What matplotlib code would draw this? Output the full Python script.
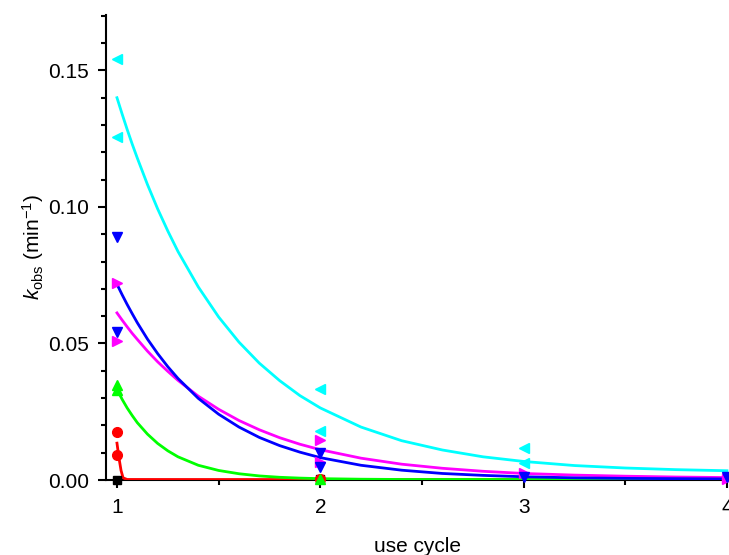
import numpy as np
import matplotlib
matplotlib.use("Agg")
import matplotlib.pyplot as plt
from matplotlib.ticker import MultipleLocator

plt.rcParams['font.family'] = ['Liberation Sans', 'DejaVu Sans']
plt.rcParams['mathtext.fontset'] = 'custom'
plt.rcParams['mathtext.rm'] = 'Liberation Sans'
plt.rcParams['mathtext.it'] = 'Liberation Sans:italic'

# measured k_obs points (use cycle, value)
cyan_x = [1, 1, 2, 2, 3, 3]
cyan_y = [0.154, 0.1256, 0.0333, 0.0180, 0.0117, 0.0062]
blue_x = [1, 1, 2, 2, 3, 4]
blue_y = [0.0890, 0.0542, 0.0100, 0.0048, 0.0010, 0.0010]
magenta_x = [1, 1, 2, 2, 3, 4]
magenta_y = [0.0720, 0.0510, 0.0147, 0.0066, 0.0026, 0.0005]
green_x = [1, 1, 2]
green_y = [0.0348, 0.0330, 0.0003]
red_x = [1, 1, 2]
red_y = [0.0176, 0.0092, 0.0005]
black_x = [1, 2]
black_y = [0.0, 0.0005]

# fitted curves
fit_x = [1.0, 1.025, 1.05, 1.075, 1.1, 1.15, 1.2, 1.25, 1.3, 1.4, 1.5, 1.6,
         1.7, 1.8, 1.9, 2.0, 2.2, 2.4, 2.6, 2.8, 3.0, 3.25, 3.5, 3.75, 4.0]
cyan_fit = [0.1400, 0.1341, 0.1284, 0.1230, 0.1179, 0.1082, 0.0993, 0.0912,
            0.0837, 0.0707, 0.0597, 0.0505, 0.0428, 0.0364, 0.0309, 0.0264,
            0.0194, 0.0144, 0.0110, 0.0085, 0.0068, 0.0053, 0.0044, 0.0038,
            0.0034]
blue_fit = [0.0717, 0.0679, 0.0643, 0.0609, 0.0576, 0.0516, 0.0463, 0.0415,
            0.0372, 0.0299, 0.0241, 0.0194, 0.0156, 0.0126, 0.0102, 0.0082,
            0.0054, 0.0036, 0.0024, 0.0017, 0.0012, 0.0008, 0.0006, 0.0005,
            0.0004]
magenta_fit = [0.0612, 0.0586, 0.0561, 0.0537, 0.0515, 0.0472, 0.0433, 0.0398,
               0.0365, 0.0307, 0.0259, 0.0218, 0.0184, 0.0155, 0.0131, 0.0111,
               0.0080, 0.0058, 0.0043, 0.0032, 0.0024, 0.0018, 0.0014, 0.0011,
               0.0009]
green_fit = [0.0332, 0.0296, 0.0264, 0.0236, 0.0210, 0.0168, 0.0134, 0.0107,
             0.0085, 0.0054, 0.0035, 0.0023, 0.0015, 0.0010, 0.0007, 0.0005,
             0.0003, 0.0002, 0.0002, 0.0002, 0.0002, 0.0002, 0.0002, 0.0002,
             0.0002]
red_fit_x = [1.0, 1.01, 1.02, 1.03, 1.05, 4.0]
red_fit = [0.0135, 0.0080, 0.0035, 0.0008, 0.0002, 0.0001]

fig = plt.figure(figsize=(7.29, 5.55), dpi=100)
ax = fig.add_axes([0.1454, 0.1351, 0.8546, 0.8379])

ax.plot([1, 4], [0, 0], color='black', lw=1.5, zorder=2)
ax.plot(red_fit_x, red_fit, color='#FF0000', lw=2, zorder=3)
ax.plot(fit_x, green_fit, color='#00FF00', lw=2, zorder=3)
ax.plot(fit_x, magenta_fit, color='#FF00FF', lw=2, zorder=3)
ax.plot(fit_x, blue_fit, color='#0000FF', lw=2, zorder=3)
ax.plot(fit_x, cyan_fit, color='#00FFFF', lw=2, zorder=3)

ms = 7
ax.plot(black_x, black_y, 's', color='black', ms=5.5, ls='none', clip_on=False, zorder=4)
ax.plot(red_x, red_y, 'o', color='#FF0000', ms=ms, ls='none', clip_on=False, zorder=4)
ax.plot(green_x, green_y, '^', color='#00FF00', ms=ms, ls='none', clip_on=False, zorder=4)
ax.plot(magenta_x, magenta_y, '>', color='#FF00FF', ms=ms, ls='none', clip_on=False, zorder=4)
ax.plot(blue_x, blue_y, 'v', color='#0000FF', ms=ms, ls='none', clip_on=False, zorder=4)
ax.plot(cyan_x, cyan_y, '<', color='#00FFFF', ms=ms, ls='none', clip_on=False, zorder=4)

ax.set_xlim(0.946, 4.01)
ax.set_ylim(0, 0.1703)
ax.spines['top'].set_visible(False)
ax.spines['right'].set_visible(False)
ax.spines['left'].set_linewidth(1.5)
ax.spines['bottom'].set_linewidth(1.5)

ax.xaxis.set_major_locator(MultipleLocator(1))
ax.xaxis.set_minor_locator(MultipleLocator(0.5))
ax.yaxis.set_major_locator(MultipleLocator(0.05))
ax.yaxis.set_minor_locator(MultipleLocator(0.01))
ax.yaxis.set_major_formatter(matplotlib.ticker.FormatStrFormatter('%.2f'))
ax.tick_params(which='major', direction='out', length=6, width=1.5, labelsize=15, pad=6)
ax.tick_params(which='minor', direction='out', length=3.5, width=1.5)
ax.tick_params(axis='x', which='major', pad=7)

ax.set_xlabel('use cycle', fontsize=15, labelpad=14)
ax.set_ylabel(r'$k_{\mathrm{obs}}$ (min$^{-1}$)', fontsize=15, labelpad=2)

fig.savefig('out.png', dpi=100)
